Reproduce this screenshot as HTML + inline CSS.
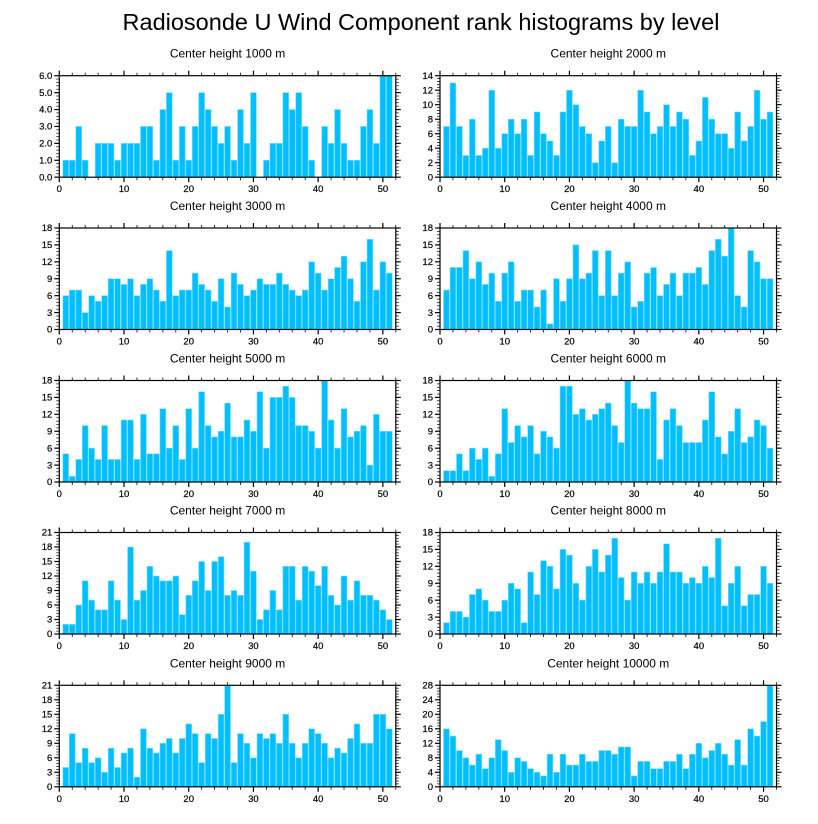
<!DOCTYPE html>
<html><head><meta charset="utf-8">
<style>
html,body{margin:0;padding:0;background:#fff;}
svg{display:block;font-family:"Liberation Sans",Arial,sans-serif;}
</style></head>
<body>
<svg id="chart" width="818" height="824" viewBox="0 0 818 824">
<text x="421" y="30" text-anchor="middle" font-size="23.5">Radiosonde U Wind Component rank histograms by level</text>
</svg>
<script>
const levels = ["1000","2000","3000","4000","5000","6000","7000","8000","9000","10000"];
const yMaxes = [6,14,18,18,18,18,21,18,21,28];
const yStepsMajor = [1,2,3,3,3,3,3,3,3,4];
const xTickLabels = [0,10,20,30,40,50];
const v1000 = [1,1,3,1,0,2,2,2,1,2,2,2,3,3,1,4,5,1,3,1,3,5,4,3,2,3,1,4,2,5,0,1,2,2,5,4,5,3,1,0,3,2,4,2,1,1,3,4,2,6,6];
const v2000 = [7,13,7,3,8,3,4,12,4,6,8,6,8,3,9,6,5,3,9,12,10,7,6,2,5,7,2,8,7,7,12,9,6,7,10,7,9,8,3,5,11,8,6,6,4,9,5,7,12,8,9];
const v3000 = [6,7,7,3,6,5,6,9,9,8,9,6,8,9,7,5,14,6,7,7,10,8,7,5,9,4,10,8,6,7,9,8,8,10,8,7,6,7,12,10,7,9,11,13,9,5,12,16,7,12,10];
const v4000 = [7,11,11,14,9,12,8,10,5,10,12,5,7,7,4,7,1,9,5,9,15,9,10,14,6,14,6,10,12,4,5,10,11,6,8,10,6,10,10,11,8,14,16,13,18,6,4,14,12,9,9];
const v5000 = [5,1,4,10,6,4,10,4,4,11,11,4,12,5,5,13,6,10,4,13,6,16,10,8,9,14,8,8,11,9,16,6,15,15,17,15,10,10,9,6,18,11,6,13,8,9,10,3,12,9,9];
const v6000 = [2,2,5,2,6,4,6,1,5,13,7,10,8,10,5,9,8,6,17,17,12,13,11,12,13,14,10,7,18,14,13,13,16,4,11,13,10,7,7,7,11,16,8,5,9,13,7,8,11,10,6];
const v7000 = [2,2,6,11,7,5,5,11,7,3,18,7,9,14,12,11,11,12,4,8,11,15,9,15,16,8,9,8,19,13,3,5,9,5,14,14,7,14,13,10,14,8,6,12,7,11,8,8,7,5,3];
const v8000 = [2,4,4,3,7,8,6,4,4,6,9,8,2,11,7,13,12,8,15,14,9,6,12,15,11,14,17,10,6,11,9,11,9,11,16,11,11,9,10,9,12,10,17,5,9,12,5,7,7,12,9];
const v9000 = [4,11,5,8,5,6,3,8,4,7,8,2,12,8,7,9,10,7,10,13,11,5,11,10,15,21,5,11,9,6,11,10,11,9,15,9,6,9,12,11,9,6,8,7,10,13,9,9,15,15,12];
const v10000 = [16,14,10,8,6,9,5,8,13,10,4,8,7,5,4,3,9,4,9,6,6,9,7,7,10,10,9,11,11,3,7,7,5,5,7,7,9,5,9,12,8,10,12,9,6,13,6,16,14,18,28];
const series = [v1000,v2000,v3000,v4000,v5000,v6000,v7000,v8000,v9000,v10000];

const svg = document.getElementById('chart');
const NS = 'http://www.w3.org/2000/svg';
function mk(tag, attrs, parent){
  const e = document.createElementNS(NS, tag);
  for (const k in attrs) e.setAttribute(k, attrs[k]);
  (parent||svg).appendChild(e);
  return e;
}
const colX = [59.3, 440];
const W = 336.5, H = 101.5;
const rowY = [75.7, 228, 380.5, 532.5, 685.3];
const XMAX = 52;

series.forEach((vals, i) => {
  const px = colX[i % 2], py = rowY[Math.floor(i / 2)];
  const ymax = yMaxes[i], ystep = yStepsMajor[i];
  const sx = v => px + v / XMAX * W;
  const sy = v => py + H - v / ymax * H;
  const g = mk('g', {});
  
  
  const t = mk('text', {x: px + W/2, y: py - 18, 'text-anchor': 'middle', 'font-size': 12}, g);
  t.textContent = 'Center height ' + levels[i] + ' m';
  
  
  vals.forEach((v, k) => {
    const c = k + 1;
    const r = mk('rect', {x: sx(c - 0.45), y: sy(v), width: sx(c + 0.45) - sx(c - 0.45), height: sy(0) - sy(v), fill: '#00bfff', stroke: '#7fdcff', 'stroke-width': 0.6}, g);
    
    
  });
  const f = mk('rect', {x: px, y: py, width: W, height: H, fill: 'none', stroke: '#000', 'stroke-width': 1.2}, g);
  
  
  for (let xv = 0; xv <= XMAX; xv += 2) {
    const major = xv % 10 === 0;
    const L = major ? 5 : 3;
    const x = sx(xv);
    mk('line', {x1: x, x2: x, y1: py + H, y2: py + H + L, stroke: '#000', 'stroke-width': major ? 1.2 : 0.8}, g);
    mk('line', {x1: x, x2: x, y1: py, y2: py - L, stroke: '#000', 'stroke-width': major ? 1.2 : 0.8}, g);
  }
  xTickLabels.forEach(xv => {
    const tl = mk('text', {x: sx(xv), y: py + H + 15, 'text-anchor': 'middle', 'font-size': 9.5, stroke: '#000', 'stroke-width': 0.2}, g);
    tl.textContent = xv;
    
    
  });
  const minor = ystep / 5;
  for (let m = 0; m <= ymax / minor + 0.001; m++) {
    const yv = m * minor;
    const major = m % 5 === 0;
    const L = major ? 5 : 3;
    const y = sy(yv);
    mk('line', {x1: px, x2: px - L, y1: y, y2: y, stroke: '#000', 'stroke-width': major ? 1.2 : 0.7}, g);
    mk('line', {x1: px + W, x2: px + W + L, y1: y, y2: y, stroke: '#000', 'stroke-width': major ? 1.2 : 0.7}, g);
  }
  for (let yv = 0; yv <= ymax + 0.001; yv += ystep) {
    const tl = mk('text', {x: px - 7, y: sy(yv) + 3.2, 'text-anchor': 'end', 'font-size': 9.5, stroke: '#000', 'stroke-width': 0.2}, g);
    tl.textContent = i === 0 ? yv.toFixed(1) : yv;
    
    
  }
});
</script>
</body></html>
